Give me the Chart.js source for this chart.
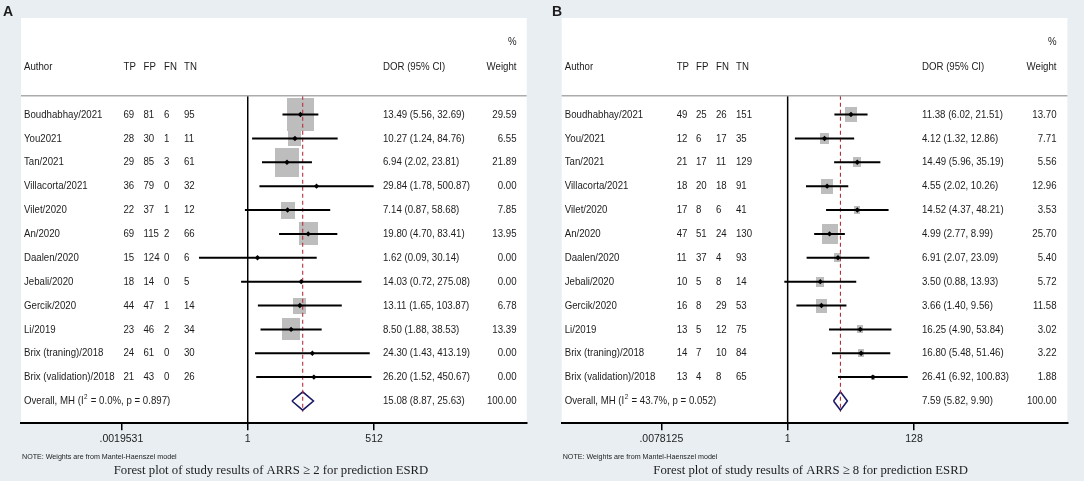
<!DOCTYPE html>
<html lang="en">
<head>
<meta charset="UTF-8">
<title>Forest plots ARRS ESRD</title>
<script src="https://cdn.jsdelivr.net/npm/chart.js"></script>
<style>
  body { margin: 0; background: #fff; }
  #wrap { position: relative; width: 1084px; height: 484px; }
  canvas { position: absolute; top: 0; }
  #panelA { left: 0; }
  #panelB { left: 540px; }
</style>
</head>
<body>
<div id="wrap">
  <canvas id="panelA" width="540" height="484"></canvas>
  <canvas id="panelB" width="544" height="484"></canvas>
</div>
<script>
// ---- panel A : ARRS >= 2 ----
const authorsA = ['Boudhabhay/2021', 'You2021', 'Tan/2021', 'Villacorta/2021', 'Vilet/2020', 'An/2020',
  'Daalen/2020', 'Jebali/2020', 'Gercik/2020', 'Li/2019', 'Brix (traning)/2018', 'Brix (validation)/2018'];
const tpA = [69, 28, 29, 36, 22, 69, 15, 18, 44, 23, 24, 21];
const fpA = [81, 30, 85, 79, 37, 115, 124, 14, 47, 46, 61, 43];
const fnA = [6, 1, 3, 0, 1, 2, 0, 0, 1, 2, 0, 0];
const tnA = [95, 11, 61, 32, 12, 66, 6, 5, 14, 34, 30, 26];
const dorA = [13.49, 10.27, 6.94, 29.84, 7.14, 19.80, 1.62, 14.03, 13.11, 8.50, 24.30, 26.20];
const lowA = [5.56, 1.24, 2.02, 1.78, 0.87, 4.70, 0.09, 0.72, 1.65, 1.88, 1.43, 1.52];
const highA = [32.69, 84.76, 23.81, 500.87, 58.68, 83.41, 30.14, 275.08, 103.87, 38.53, 413.19, 450.67];
const weightA = [29.59, 6.55, 21.89, 0.00, 7.85, 13.95, 0.00, 0.00, 6.78, 13.39, 0.00, 0.00];
const overallA = [15.08, 8.87, 25.63];      // DOR, low, high
const hetA = ['0.0%', '0.897'];              // I2, p
const tickValsA = [0.001953125, 1, 512];
const tickTextA = ['.0019531', '1', '512'];

// ---- panel B : ARRS >= 8 ----
const authorsB = ['Boudhabhay/2021', 'You/2021', 'Tan/2021', 'Villacorta/2021', 'Vilet/2020', 'An/2020',
  'Daalen/2020', 'Jebali/2020', 'Gercik/2020', 'Li/2019', 'Brix (traning)/2018', 'Brix (validation)/2018'];
const tpB = [49, 12, 21, 18, 17, 47, 11, 10, 16, 13, 14, 13];
const fpB = [25, 6, 17, 20, 8, 51, 37, 5, 8, 5, 7, 4];
const fnB = [26, 17, 11, 18, 6, 24, 4, 8, 29, 12, 10, 8];
const tnB = [151, 35, 129, 91, 41, 130, 93, 14, 53, 75, 84, 65];
const dorB = [11.38, 4.12, 14.49, 4.55, 14.52, 4.99, 6.91, 3.50, 3.66, 16.25, 16.80, 26.41];
const lowB = [6.02, 1.32, 5.96, 2.02, 4.37, 2.77, 2.07, 0.88, 1.40, 4.90, 5.48, 6.92];
const highB = [21.51, 12.86, 35.19, 10.26, 48.21, 8.99, 23.09, 13.93, 9.56, 53.84, 51.46, 100.83];
const weightB = [13.70, 7.71, 5.56, 12.96, 3.53, 25.70, 5.40, 5.72, 11.58, 3.02, 3.22, 1.88];
const overallB = [7.59, 5.82, 9.90];
const hetB = ['43.7%', '0.052'];
const tickValsB = [0.0078125, 1, 128];
const tickTextB = ['.0078125', '1', '128'];

const BG = '#e9eef2';
const TXT = '#1c1c1c';
const FONT = 'Liberation Sans, Arial, sans-serif';
const SX = 0.84;   // the original text is horizontally squeezed

function txt(ctx, s, x, y, align, font, sx) {
  ctx.save();
  ctx.font = font;
  ctx.textAlign = align;
  ctx.textBaseline = 'middle';
  ctx.translate(x, y);
  ctx.scale(sx, 1);
  ctx.fillText(s, 0, 0);
  ctx.restore();
}

function boxImg(w, k, asp) {
  const c = document.createElement('canvas');
  const bw = Math.max(1, Math.round(k * Math.sqrt(w)));
  c.width = bw;
  c.height = Math.max(1, Math.round(bw * asp));
  const g = c.getContext('2d');
  g.fillStyle = '#bdbdbd';
  g.fillRect(0, 0, c.width, c.height);
  return c;
}

function makePanel(id, d, lay) {
  const n = d.authors.length;
  const rows = d.authors.map((a, i) => i);
  const ov = n;               // row index of the overall line
  const hdrLine = -0.79;
  const yMin = -4.046, yMax = 12.935;

  const ciData = [];
  rows.forEach(i => {
    ciData.push({ x: d.low[i], y: i }, { x: d.high[i], y: i }, { x: d.dor[i], y: null });
  });
  const dh = 0.385;
  const diamond = [
    { x: d.overall[1], y: ov }, { x: d.overall[0], y: ov - dh },
    { x: d.overall[2], y: ov }, { x: d.overall[0], y: ov + dh },
    { x: d.overall[1], y: ov }
  ];
  const boxes = d.weight.map(w => boxImg(w, lay.boxK, lay.boxAsp));

  const textPlugin = {
    id: 'forestText',
    beforeDraw(chart) {
      const ctx = chart.ctx, a = chart.chartArea;
      ctx.save();
      ctx.fillStyle = BG;
      ctx.fillRect(0, 0, chart.width, 481);
      ctx.fillStyle = '#fff';
      ctx.fillRect(a.left, a.top, a.right - a.left, a.bottom - a.top);
      ctx.restore();
    },
    afterDatasetsDraw(chart) {
      const ctx = chart.ctx, a = chart.chartArea, ys = chart.scales.y;
      // header rule
      const hy = ys.getPixelForValue(hdrLine);
      ctx.save();
      ctx.strokeStyle = '#ababab';
      ctx.lineWidth = 1.5;
      ctx.beginPath();
      ctx.moveTo(a.left, hy);
      ctx.lineTo(a.right, hy);
      ctx.stroke();
      ctx.restore();

      ctx.fillStyle = TXT;
      const f = '11.5px ' + FONT;
      const hY = ys.getPixelForValue(-2.0);
      txt(ctx, '%', lay.wtX, ys.getPixelForValue(-3.04), 'right', f, SX);
      txt(ctx, 'Author', lay.authX, hY, 'left', f, SX);
      ['TP', 'FP', 'FN', 'TN'].forEach((h, k) => txt(ctx, h, lay.cols[k], hY, 'left', f, SX));
      txt(ctx, 'DOR (95% CI)', lay.dorX, hY, 'left', f, SX);
      txt(ctx, 'Weight', lay.wtX, hY, 'right', f, SX);

      rows.forEach(i => {
        const y = ys.getPixelForValue(i);
        txt(ctx, d.authors[i], lay.authX, y, 'left', f, SX);
        [d.tp[i], d.fp[i], d.fn[i], d.tn[i]].forEach((v, k) => txt(ctx, String(v), lay.cols[k], y, 'left', f, SX));
        txt(ctx, d.dor[i].toFixed(2) + ' (' + d.low[i].toFixed(2) + ', ' + d.high[i].toFixed(2) + ')', lay.dorX, y, 'left', f, SX);
        txt(ctx, d.weight[i].toFixed(2), lay.wtX, y, 'right', f, SX);
      });

      // overall row, with superscript 2
      const oy = ys.getPixelForValue(ov);
      ctx.save();
      ctx.font = f;
      const w1 = ctx.measureText('Overall, MH (I').width * SX;
      ctx.font = '7.5px ' + FONT;
      const w2 = ctx.measureText('2').width * SX;
      ctx.restore();
      txt(ctx, 'Overall, MH (I', lay.authX, oy, 'left', f, SX);
      txt(ctx, '2', lay.authX + w1 + 0.5, oy - 4, 'left', '7.5px ' + FONT, SX);
      txt(ctx, ' = ' + d.het[0] + ', p = ' + d.het[1] + ')', lay.authX + w1 + w2 + 1, oy, 'left', f, SX);
      txt(ctx, d.overall[0].toFixed(2) + ' (' + d.overall[1].toFixed(2) + ', ' + d.overall[2].toFixed(2) + ')', lay.dorX, oy, 'left', f, SX);
      txt(ctx, '100.00', lay.wtX, oy, 'right', f, SX);

      // panel letter, note and caption
      txt(ctx, lay.letter, lay.letterX, 12, 'left', 'bold 14px ' + FONT, 1);
      txt(ctx, 'NOTE: Weights are from Mantel-Haenszel model', a.left + 1, 456.5, 'left', '7.5px ' + FONT, 0.95);
      txt(ctx, d.title, lay.titleX, 470.5, 'center', '13px "Liberation Serif", "Times New Roman", serif', 0.98);
    }
  };

  return new Chart(document.getElementById(id), {
    type: 'scatter',
    data: {
      datasets: [
        { // point estimates
          data: rows.map(i => ({ x: d.dor[i], y: i })),
          pointStyle: 'rectRot', pointRadius: 2.7, backgroundColor: '#000', borderWidth: 0
        },
        { // confidence intervals
          data: ciData, showLine: true, spanGaps: false,
          borderColor: '#000', borderWidth: 2, pointRadius: 0
        },
        { // overall estimate, dashed
          data: [{ x: d.overall[0], y: hdrLine }, { x: d.overall[0], y: 12.45 }],
          showLine: true, borderColor: '#b3313b', borderWidth: 1.1, borderDash: [4, 3], pointRadius: 0
        },
        { // weight boxes
          data: rows.map(i => ({ x: d.dor[i], y: i })),
          pointStyle: boxes, pointRadius: d.weight.map(w => w > 0 ? 4 : 0), borderWidth: 0
        },
        { // line of no effect
          data: [{ x: 1, y: hdrLine }, { x: 1, y: yMax }],
          showLine: true, borderColor: '#000', borderWidth: 1.5, pointRadius: 0
        },
        { // overall diamond
          data: diamond, showLine: true, tension: 0,
          borderColor: '#1a1a66', borderWidth: 1.6, pointRadius: 0, fill: false
        }
      ]
    },
    options: {
      responsive: false,
      animation: false,
      events: [],
      layout: { padding: { left: lay.padL, right: lay.padR, top: 18, bottom: 484 - 423.3 - 24 } },
      plugins: { legend: { display: false }, tooltip: { enabled: false } },
      scales: {
        x: {
          type: 'logarithmic',
          bounds: 'data',
          min: Math.pow(2, lay.lmin),
          max: Math.pow(2, lay.lmax),
          afterBuildTicks: s => { s.ticks = d.tickVals.map(v => ({ value: v })); },
          afterFit: s => { s.height = 24; },
          ticks: {
            autoSkip: false, maxRotation: 0, padding: 3, color: TXT,
            font: { family: FONT, size: 10.5 },
            callback: (v, i) => d.tickText[i]
          },
          grid: { drawOnChartArea: false, drawTicks: true, tickLength: 7, color: '#000', lineWidth: 1.5 },
          border: { display: true, color: '#000', width: 2 }
        },
        y: { type: 'linear', display: false, reverse: true, min: yMin, max: yMax }
      }
    },
    plugins: [textPlugin]
  });
}

makePanel('panelA', {
  authors: authorsA, tp: tpA, fp: fpA, fn: fnA, tn: tnA, dor: dorA, low: lowA, high: highA,
  weight: weightA, overall: overallA, het: hetA, tickVals: tickValsA, tickText: tickTextA,
  title: 'Forest plot of study results of ARRS \u2265 2 for prediction ESRD'
}, {
  letter: 'A', letterX: 3, padL: 21, padR: 13.3, lmin: -16.15, lmax: 19.87,
  authX: 24, cols: [123.5, 143.5, 164, 184], dorX: 383, wtX: 516.5,
  boxK: 5.05, boxAsp: 1.22, titleX: 271
});

makePanel('panelB', {
  authors: authorsB, tp: tpB, fp: fpB, fn: fnB, tn: tnB, dor: dorB, low: lowB, high: highB,
  weight: weightB, overall: overallB, het: hetB, tickVals: tickValsB, tickText: tickTextB,
  title: 'Forest plot of study results of ARRS \u2265 8 for prediction ESRD'
}, {
  letter: 'B', letterX: 12, padL: 21.7, padR: 16.6, lmin: -12.52, lmax: 15.50,
  authX: 24.7, cols: [136.7, 156, 176, 196], dorX: 382, wtX: 516.5,
  boxK: 3.2, boxAsp: 1.27, titleX: 270.6
});
</script>
</body>
</html>
